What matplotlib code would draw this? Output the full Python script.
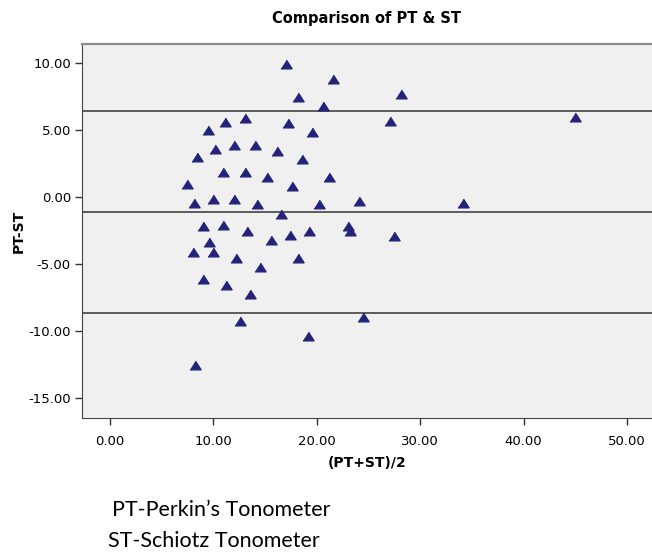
import matplotlib
matplotlib.use('Agg')
import matplotlib.pyplot as plt

# Bland-Altman style data: mean of the two readings vs difference
mean_pt_st = [9.49, 11.17, 13.06, 10.14, 12.0, 14.06, 16.2, 8.49, 11.0, 13.06,
              15.22, 7.46, 8.2, 10.04, 12.0, 14.26, 9.0, 11.0, 13.25, 15.61,
              17.06, 21.55, 18.24, 20.59, 17.25, 19.57, 18.56, 21.24, 17.62, 20.25,
              24.13, 16.6, 17.4, 19.24, 23.02, 23.24, 9.65, 8.08, 10.04, 12.23,
              14.58, 9.0, 11.23, 13.58, 12.58, 8.23, 18.24, 24.45, 19.14, 28.16,
              27.12, 44.98, 34.17, 27.44]
diff_pt_st = [4.97, 5.59, 5.84, 3.58, 3.83, 3.83, 3.43, 2.98, 1.84, 1.84,
              1.47, 0.95, -0.45, -0.15, -0.15, -0.52, -2.16, -2.13, -2.53, -3.19,
              9.89, 8.77, 7.45, 6.78, 5.47, 4.80, 2.81, 1.47, 0.77, -0.53,
              -0.34, -1.27, -2.82, -2.53, -2.16, -2.53, -3.35, -4.14, -4.14, -4.55,
              -5.26, -6.13, -6.56, -7.25, -9.24, -12.54, -4.55, -8.94, -10.36, 7.65,
              5.66, 5.96, -0.45, -2.91]

# mean difference and limits of agreement
ref_lines = [6.39, -1.12, -8.64]

x_ticks = [0, 10, 20, 30, 40, 50]
y_ticks = [10, 5, 0, -5, -10, -15]

plt.rcParams['font.family'] = ['DejaVu Sans']

fig = plt.figure(figsize=(6.52, 5.52), dpi=100)
ax = fig.add_axes([82 / 652, 1 - 418 / 552, 1 - 82 / 652, (418 - 44) / 552])
ax.set_facecolor('#f0f0f0')

for y in ref_lines:
    ax.axhline(y, color='#333333', lw=1.1, zorder=1)

tri = [(-1, -0.78), (1, -0.78), (0, 0.78)]
ax.plot(mean_pt_st, diff_pt_st, linestyle='none', marker=tri, markersize=8,
        color='#23237a', markeredgecolor='#23237a', zorder=3)

ax.set_xlim(-2.66, 52.4)
ax.set_ylim(-16.49, 11.38)
ax.set_xticks(x_ticks)
ax.set_xticklabels(['%.2f' % v for v in x_ticks])
ax.set_yticks(y_ticks)
ax.set_yticklabels(['%.2f' % v for v in y_ticks])
ax.tick_params(axis='both', labelsize=9.5, length=5, width=1, color='#333333', direction='out')
ax.tick_params(axis='x', pad=7)
ax.tick_params(axis='y', pad=3)

ax.spines['right'].set_visible(False)
ax.spines['top'].set_color('#8a8a8a')
ax.spines['top'].set_linewidth(1.6)
ax.spines['left'].set_color('#444444')
ax.spines['bottom'].set_color('#444444')

ax.set_title('Comparison of PT & ST', fontsize=10.5, fontweight='bold', pad=15)
ax.set_xlabel('(PT+ST)/2', fontsize=10, fontweight='bold', labelpad=6)
ax.set_ylabel('PT-ST', fontsize=10, fontweight='bold', labelpad=2)

fig.text(112 / 652, 1 - 510 / 552, 'PT-Perkin\u2019s Tonometer', fontsize=15.5,
         family=['Lato', 'DejaVu Sans'], va='center', ha='left')
fig.text(108 / 652, 1 - 541 / 552, 'ST-Schiotz Tonometer', fontsize=15.5,
         family=['Lato', 'DejaVu Sans'], va='center', ha='left')

fig.savefig('out.png', dpi=100)
